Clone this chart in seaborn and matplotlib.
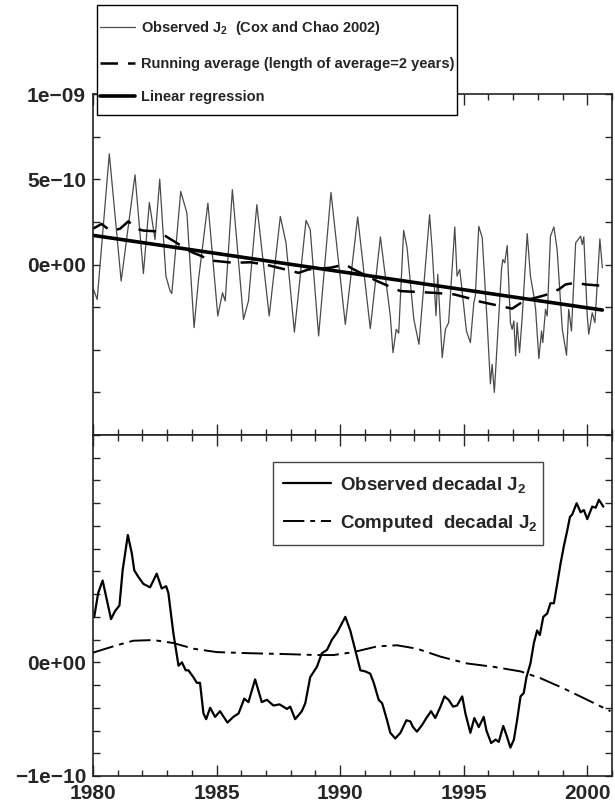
import matplotlib
matplotlib.use("Agg")
import numpy as np
import matplotlib.pyplot as plt
import seaborn as sns
from matplotlib.patches import Rectangle
from matplotlib.ticker import MultipleLocator, FixedLocator

# ---- data (values in units of 1e-10) ----
obs_years = [1980.02, 1980.17, 1980.66, 1981.14, 1981.70, 1982.04, 1982.28, 1982.51, 1982.70,
             1982.95, 1983.12, 1983.19, 1983.55, 1983.80, 1984.09, 1984.27, 1984.65, 1985.05,
             1985.24, 1985.35, 1985.64, 1986.09, 1986.29, 1986.63, 1987.13, 1987.58, 1987.81,
             1988.15, 1988.62, 1988.79, 1989.13, 1989.63, 1990.21, 1990.71, 1991.22, 1991.63,
             1992.03, 1992.14, 1992.27, 1992.37, 1992.57, 1992.71, 1992.98, 1993.19, 1993.62,
             1993.72, 1993.88, 1993.95, 1994.13, 1994.26, 1994.39, 1994.64, 1994.73, 1994.84,
             1995.11, 1995.27, 1995.41, 1995.47, 1995.61, 1995.75, 1995.95, 1996.08, 1996.15,
             1996.24, 1996.42, 1996.53, 1996.58, 1996.66, 1996.76, 1996.89, 1996.96, 1997.03,
             1997.10, 1997.16, 1997.26, 1997.37, 1997.57, 1997.70, 1997.84, 1997.91, 1998.04,
             1998.15, 1998.20, 1998.31, 1998.38, 1998.51, 1998.65, 1998.78, 1998.99, 1999.16,
             1999.25, 1999.36, 1999.53, 1999.73, 1999.80, 1999.86, 2000.00, 2000.06, 2000.20,
             2000.31, 2000.51, 2000.61]
obs_vals = [-1.46, -2.05, 6.49, -0.97, 5.26, -0.53, 3.64, 1.46, 5.00,
            -0.68, -1.55, -1.70, 4.29, 3.02, -3.70, -0.88, 3.60, -3.02,
            -1.66, -2.14, 4.39, -3.22, -2.14, 3.51, -3.02, 2.82, 1.27,
            -3.96, 2.59, 2.05, -4.19, 4.23, -3.51, 2.79, -3.76, 1.62,
            -3.02, -5.17, -3.80, -4.03, 2.00, 0.97, -3.20, -4.68, 2.92,
            0.97, -3.00, -0.58, -5.46, -3.80, -3.41, 2.20, -0.68, -0.29,
            -3.90, -4.58, -2.24, -1.85, 2.24, 1.56, -3.41, -7.00, -5.85,
            -7.50, -3.02, -0.29, 0.29, 0.10, 1.11, -3.41, -3.80, -3.31,
            -5.36, -3.41, -5.17, -3.02, 1.81, -0.68, -1.85, -2.63, -5.52,
            -3.90, -4.58, -2.63, -3.02, 1.66, 2.20, 0.88, -3.80, -5.32,
            -2.63, -3.90, 1.27, 1.66, 1.17, 1.62, -3.02, -4.09, -2.83,
            -3.41, 1.50, -0.19]

run_years = [1980.00, 1980.35, 1980.69, 1981.09, 1981.43, 1981.77, 1982.04, 1982.51, 1982.78,
             1983.12, 1984.00, 1984.40, 1984.67, 1985.08, 1985.68, 1986.36, 1986.97, 1987.78,
             1988.32, 1988.72, 1989.60, 1990.21, 1990.55, 1991.49, 1992.44, 1993.79, 1994.60,
             1995.14, 1995.54, 1996.49, 1996.96, 1997.43, 1997.91, 1998.31, 1998.85, 1999.12,
             1999.53, 1999.93, 2000.61]
run_vals = [2.10, 2.38, 1.99, 2.09, 2.53, 2.09, 1.99, 1.95, 1.81,
            1.50, 0.72, 0.49, 0.25, 0.19, 0.10, 0.13, 0.00, -0.29,
            -0.49, -0.29, -0.19, 0.00, -0.29, -0.97, -1.56, -1.66, -1.75,
            -1.95, -2.14, -2.44, -2.59, -2.14, -1.95, -1.79, -1.46, -1.17,
            -1.07, -1.17, -1.25]

reg_years = [1980.00, 2000.61]
reg_vals = [1.71, -2.67]

dec_years = [1980.05, 1980.21, 1980.39, 1980.53, 1980.73, 1980.89, 1981.07, 1981.20, 1981.41,
             1981.57, 1981.67, 1981.84, 1982.04, 1982.31, 1982.58, 1982.78, 1982.96, 1983.05,
             1983.25, 1983.46, 1983.60, 1983.75, 1983.86, 1984.06, 1984.20, 1984.33, 1984.47,
             1984.58, 1984.74, 1984.94, 1985.14, 1985.44, 1985.68, 1985.89, 1986.12, 1986.29,
             1986.56, 1986.83, 1987.04, 1987.30, 1987.55, 1987.85, 1987.98, 1988.18, 1988.45,
             1988.59, 1988.79, 1989.06, 1989.26, 1989.47, 1989.67, 1989.87, 1990.21, 1990.41,
             1990.61, 1990.82, 1991.02, 1991.22, 1991.36, 1991.56, 1991.70, 1991.90, 1992.03,
             1992.23, 1992.44, 1992.68, 1992.84, 1992.95, 1993.11, 1993.32, 1993.49, 1993.68,
             1993.85, 1994.06, 1994.22, 1994.39, 1994.57, 1994.73, 1994.94, 1995.07, 1995.27,
             1995.43, 1995.61, 1995.81, 1995.92, 1996.11, 1996.29, 1996.42, 1996.60, 1996.73,
             1996.89, 1997.03, 1997.16, 1997.30, 1997.43, 1997.54, 1997.70, 1997.84, 1997.97,
             1998.08, 1998.22, 1998.38, 1998.51, 1998.65, 1998.76, 1998.92, 1999.05, 1999.19,
             1999.30, 1999.39, 1999.57, 1999.73, 1999.86, 2000.00, 2000.20, 2000.34, 2000.47,
             2000.65]
dec_vals = [0.40, 0.61, 0.72, 0.58, 0.38, 0.45, 0.50, 0.81, 1.12,
            0.96, 0.81, 0.75, 0.69, 0.66, 0.78, 0.65, 0.67, 0.61,
            0.26, -0.03, 0.00, -0.07, -0.07, -0.13, -0.18, -0.18, -0.45,
            -0.50, -0.40, -0.48, -0.43, -0.53, -0.48, -0.45, -0.32, -0.35,
            -0.15, -0.35, -0.33, -0.38, -0.37, -0.41, -0.39, -0.50, -0.43,
            -0.36, -0.13, -0.04, 0.08, 0.11, 0.20, 0.26, 0.40, 0.28,
            0.11, -0.07, -0.08, -0.10, -0.18, -0.33, -0.36, -0.51, -0.62,
            -0.67, -0.62, -0.51, -0.52, -0.57, -0.61, -0.55, -0.49, -0.43,
            -0.49, -0.39, -0.30, -0.33, -0.39, -0.38, -0.30, -0.45, -0.62,
            -0.49, -0.57, -0.48, -0.60, -0.71, -0.68, -0.70, -0.56, -0.64,
            -0.75, -0.68, -0.51, -0.30, -0.27, -0.13, -0.01, 0.17, 0.28,
            0.24, 0.40, 0.43, 0.52, 0.52, 0.66, 0.87, 1.02, 1.16,
            1.28, 1.30, 1.40, 1.32, 1.34, 1.26, 1.37, 1.36, 1.43,
            1.37]

comp_years = [1980.00, 1980.96, 1981.63, 1982.44, 1983.25, 1984.06, 1985.01, 1986.36, 1987.71,
              1989.06, 1989.73, 1990.54, 1991.49, 1992.30, 1993.11, 1994.06, 1995.14, 1996.22,
              1997.30, 1998.11, 1999.05, 2000.00, 2000.94]
comp_vals = [0.085, 0.15, 0.19, 0.196, 0.17, 0.12, 0.09, 0.08, 0.073,
             0.064, 0.064, 0.09, 0.14, 0.15, 0.12, 0.05, -0.01, -0.04,
             -0.08, -0.14, -0.23, -0.33, -0.43]

year_ticks = [1980, 1985, 1990, 1995, 2000]

SCALE = 1e-10
W, H = 615, 809

sns.set_style("ticks")
plt.rcParams["font.family"] = ["Liberation Sans", "DejaVu Sans"]
plt.rcParams["font.weight"] = "bold"
plt.rcParams["mathtext.fontset"] = "custom"
plt.rcParams["mathtext.rm"] = "Liberation Sans:bold"
plt.rcParams["mathtext.it"] = "Liberation Sans:bold"
plt.rcParams["mathtext.bf"] = "Liberation Sans:bold"

fig = plt.figure(figsize=(W / 100, H / 100), dpi=100)
ax_top = fig.add_axes([0.1512, 0.4623, 0.8439, 0.4215])
ax_bot = fig.add_axes([0.1512, 0.0408, 0.8439, 0.4215])


def style_axis(ax):
    for sp in ax.spines.values():
        sp.set_visible(True)
        sp.set_linewidth(1.2)
        sp.set_color("#222222")
    ax.set_xlim(1980, 2001)
    ax.xaxis.set_major_locator(FixedLocator(year_ticks))
    ax.xaxis.set_minor_locator(MultipleLocator(1))
    ax.tick_params(axis="x", which="major", direction="in", length=8, width=1.0,
                   top=True, bottom=True, labelsize=15, pad=5.5)
    ax.tick_params(axis="x", which="minor", direction="in", length=4.5, width=1.0,
                   top=True, bottom=True)
    ax.tick_params(axis="y", which="major", direction="in", length=5, width=1.0,
                   left=True, right=True, labelsize=15, pad=5)
    ax.set_xlabel("")
    ax.set_ylabel("")


def legend_box(ax, x0, y0, x1, y1, edge):
    # frame drawn in figure pixels so it can sit over the axes spine
    rect = Rectangle((x0 / W, 1 - y1 / H), (x1 - x0) / W, (y1 - y0) / H,
                     transform=fig.transFigure, facecolor="white", edgecolor=edge,
                     linewidth=1.0, clip_on=False, zorder=6)
    ax.add_patch(rect)


# ---- top panel ----
sns.lineplot(x=obs_years, y=np.array(obs_vals) * SCALE, ax=ax_top, color="#4a4a4a",
             linewidth=0.9, label="Observed J$_{2}$  (Cox and Chao 2002)")
sns.lineplot(x=run_years, y=np.array(run_vals) * SCALE, ax=ax_top, color="black",
             linewidth=1.8, label="Running average (length of average=2 years)")
ax_top.lines[-1].set_dashes([7, 4])
sns.lineplot(x=reg_years, y=np.array(reg_vals) * SCALE, ax=ax_top, color="black",
             linewidth=2.6, label="Linear regression")

style_axis(ax_top)
ax_top.set_ylim(-1e-9, 1e-9)
top_ticks = [-7.5e-10, -5e-10, -2.5e-10, 0, 2.5e-10, 5e-10, 7.5e-10, 1e-9]
top_labels = ["", "", "", "0e+00", "", "5e\u221210", "", "1e\u221209"]
ax_top.set_yticks(top_ticks, top_labels)
ax_top.tick_params(axis="x", labelbottom=False)
for t in ax_top.get_yticklabels():
    t.set_fontweight("bold")

legend_box(ax_top, 97, 5, 457, 115, "black")
leg = ax_top.legend(loc="upper left", bbox_to_anchor=(100 / W, 1 - 19 / H),
                    bbox_transform=fig.transFigure, borderaxespad=0, frameon=False,
                    handlelength=2.4, handletextpad=0.4, labelspacing=1.35,
                    borderpad=0, prop={"weight": "bold", "size": 10.5})
leg.set_zorder(10)

# ---- bottom panel ----
sns.lineplot(x=dec_years, y=np.array(dec_vals) * SCALE, ax=ax_bot, color="black",
             linewidth=1.6, label="Observed decadal J$_{2}$")
sns.lineplot(x=comp_years, y=np.array(comp_vals) * SCALE, ax=ax_bot, color="black",
             linewidth=1.4, label="Computed  decadal J$_{2}$")
ax_bot.lines[-1].set_dashes([11, 3, 2.5, 3])

style_axis(ax_bot)
ax_bot.set_ylim(-1e-10, 2e-10)
bot_ticks = list(np.arange(-10, 21, 2) * 1e-11)
bot_labels = ["\u22121e\u221210" if i == 0 else ("0e+00" if i == 5 else "")
              for i in range(len(bot_ticks))]
ax_bot.set_yticks(bot_ticks, bot_labels)
ax_bot.set_xticks(year_ticks, [str(y) for y in year_ticks])
for t in ax_bot.get_yticklabels() + ax_bot.get_xticklabels():
    t.set_fontweight("bold")

legend_box(ax_bot, 273, 462, 543, 545, "#444444")
leg2 = ax_bot.legend(loc="upper left", bbox_to_anchor=(283 / W, 1 - 475 / H),
                     bbox_transform=fig.transFigure, borderaxespad=0, frameon=False,
                     handlelength=2.55, handletextpad=0.5, labelspacing=0.95,
                     borderpad=0, prop={"weight": "bold", "size": 13.5})
leg2.set_zorder(10)

fig.savefig("out.png", dpi=100)
